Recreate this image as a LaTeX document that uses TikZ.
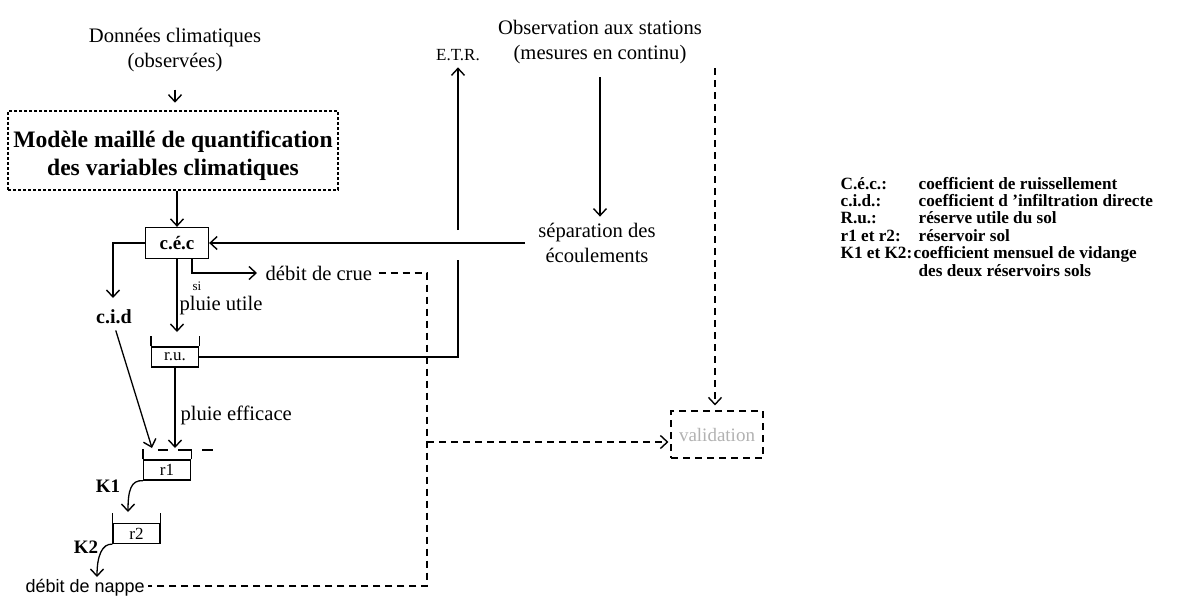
\documentclass[tikz,border=0pt]{standalone}
\usepackage{fontspec}
\setmainfont{Liberation Serif}
\newfontfamily\arialf{Liberation Sans}
\usetikzlibrary{arrows.meta}
\begin{document}
\begin{tikzpicture}[x=1pt,y=-1pt,
  line width=1.3pt,
  arr/.style={-{Straight Barb[length=7pt,width=13pt,line width=1.4pt]}},
  txt/.style={font=\fontsize{20.6}{25}\selectfont, inner sep=0pt, align=center},
  btxt/.style={font=\fontsize{19}{23}\selectfont\bfseries, inner sep=0pt},
  dsh/.style={dash pattern=on 7pt off 5pt, line width=1.1pt},
  tankbox/.style={draw, minimum width=47pt, minimum height=20pt, inner sep=0pt, font=\fontsize{17}{20}\selectfont},
  leg/.style={font=\fontsize{17.2}{20}\selectfont\bfseries, inner sep=0pt, anchor=base west}
]
\useasboundingbox (0,0) rectangle (1180,597);

% top left
\node[txt] (donnees) at (175,50) {Données climatiques\\(observées)};
\node[draw, line width=2.6pt, dash pattern=on 2.6pt off 2.4pt, minimum width=330pt, minimum height=79pt,
      inner sep=0pt] (modele) at (173,150.5) {};
\node[inner sep=0pt, align=center, font=\fontsize{23.6}{28}\selectfont\bfseries] (modtxt) at (173,156)
      {Modèle maillé de quantification\\des variables climatiques};
\draw[arr, shorten <=17pt, shorten >=7pt] (donnees.south) -- (donnees.south |- modele.north);

% c.e.c
\node[draw, minimum width=63pt, minimum height=31pt, btxt] (cec) at (177,243) {c.é.c};
\draw[arr] (modele.south -| cec.north) -- (cec.north);

% c.i.d branch
\coordinate (cidtip) at (113,298);
\draw[arr] (cec.west) -| (cidtip);
\node[btxt, font=\fontsize{20}{24}\selectfont\bfseries] (cid) at (114,317) {c.i.d};

% r.u.
\node[tankbox] (ru) at (175,357) {r.u.};
\draw (ru.north west) -- ++(0,-10);
\draw (ru.north east) -- ++(0,-10);
\coordinate (rutip) at (177,332);
\draw[arr] (cec.south) -- (rutip);
\node[inner sep=0pt, font=\fontsize{13}{15}\selectfont] (si) at (197,286) {si};
\node[txt] (putile) at (221,306) {pluie utile};

% debit de crue
\node[txt, anchor=west] (crue) at (265,273) {débit de crue};
\draw[arr, shorten >=8pt] ([xshift=15pt]cec.south) |- (crue.west);

% r1
\node[tankbox] (r1) at (167,470) {r1};
\draw (r1.north west) -- ++(0,-10);
\draw (r1.north east) -- ++(0,-10);
\draw (158,450) -- (168,450) (178,450) -- (190.5,450) (202,450) -- (213,450);
\coordinate (r1in) at (175,448);
\coordinate (r1cid) at (152,448);
\draw[arr] (ru.south) -- (r1in);
\draw[arr, shorten <=6pt] (cid.south) -- (r1cid);
\node[txt, anchor=west] (peff) at (180,415) {pluie efficace};

% r2
\node[tankbox] (r2) at (136.5,533.5) {r2};
\draw (r2.north west) -- ++(0,-10);
\draw (r2.north east) -- ++(0,-10);
\coordinate (k1tip) at (128,512);
\draw[arr] (r1.south west) .. controls (131,480) and (128,490) .. (k1tip);
\node[btxt] (k1) at (108,486) {K1};
\coordinate (k2tip) at (97,577);
\draw[arr] (r2.south west) .. controls (102,543.5) and (97,556) .. (k2tip);
\node[btxt] (k2) at (86,547) {K2};
\node[inner sep=0pt, anchor=base west, font=\arialf\fontsize{18}{20}\selectfont] (nappe) at (25,592) {débit de nappe};

% ETR
\node[inner sep=0pt, font=\fontsize{17}{20}\selectfont] (etr) at (458,55) {E.T.R.};
\coordinate (g1) at (458,260);
\coordinate (g2) at (458,230);
\draw (ru.east) -| (g1);
\draw[arr, shorten >=6pt] (g2) -- (etr.south);

% observation
\node[txt] (obs) at (600,42) {Observation aux stations\\(mesures en continu)};
\node[txt] (sep) at (597,243) {séparation des\\écoulements};
\draw[arr, shorten <=13pt, shorten >=6pt] (obs.south) -- (obs.south |- sep.north);
\coordinate (sepL) at (525,243);
\draw[arr] (sepL) -- (cec.east);

% validation
\node[draw, dsh, minimum width=92pt, minimum height=47pt, inner sep=0pt, text=black!30,
      font=\fontsize{19}{22}\selectfont] (valid) at (717,434.5) {validation};
\coordinate (vtop) at (427,273);
\coordinate (vbot) at (427,586);
\coordinate (vmid) at (427,442);
\draw[dsh] ([xshift=6pt]crue.east) -- (vtop) -- (vbot) -- ([xshift=3pt]vbot -| nappe.east);
\draw[dsh, arr, shorten >=2pt] (vmid) -- (vmid -| valid.west);
\coordinate (vobs) at (715,68);
\draw[dsh, arr, shorten >=5pt] (vobs) -- (vobs |- valid.north);

% legend
\node[leg] (l1a) at (840,189) {C.é.c.:};
\node[leg] (l1b) at (918,189) {coefficient de ruissellement};
\node[leg] (l2a) at (840,206.4) {c.i.d.:};
\node[leg] (l2b) at (918,206.4) {coefficient d 'infiltration directe};
\node[leg] (l3a) at (840,223.8) {R.u.:};
\node[leg] (l3b) at (918,223.8) {réserve utile du sol};
\node[leg] (l4a) at (840,241.2) {r1 et r2:};
\node[leg] (l4b) at (918,241.2) {réservoir sol};
\node[leg] (l5a) at (840,258.6) {K1 et K2:};
\node[leg] (l5b) at (913,258.6) {coefficient mensuel de vidange};
\node[leg] (l6b) at (918,276) {des deux réservoirs sols};
\end{tikzpicture}
\end{document}
